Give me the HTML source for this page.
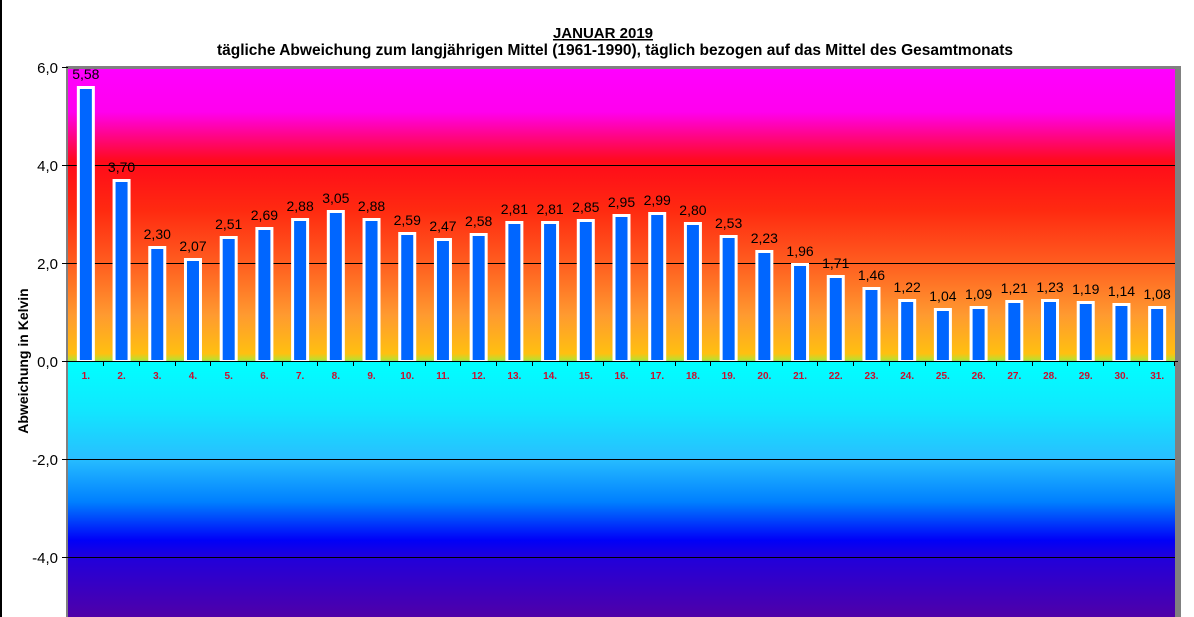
<!DOCTYPE html>
<html><head><meta charset="utf-8"><style>
html,body{margin:0;padding:0;background:#fff;}
svg{display:block;font-family:"Liberation Sans",Arial,sans-serif;}
.v{font-size:14px;text-anchor:middle;fill:#000}
.d{font-size:10px;font-weight:bold;fill:#c8102e;text-anchor:middle}
</style></head><body>
<svg width="1194" height="617" viewBox="0 0 1194 617" xmlns="http://www.w3.org/2000/svg">
<defs>
<linearGradient id="g" x1="0" y1="68" x2="0" y2="617" gradientUnits="userSpaceOnUse">
<stop offset="0" stop-color="#ff00ff"/>
<stop offset="0.08" stop-color="#ff00ee"/>
<stop offset="0.17" stop-color="#ff0a1a"/>
<stop offset="0.26" stop-color="#ff2a10"/>
<stop offset="0.36" stop-color="#ff6020"/>
<stop offset="0.45" stop-color="#ff9a30"/>
<stop offset="0.52" stop-color="#ffc010"/>
<stop offset="0.532" stop-color="#b8e030"/>
<stop offset="0.536" stop-color="#00ffff"/>
<stop offset="0.62" stop-color="#10e8ff"/>
<stop offset="0.71" stop-color="#28bfff"/>
<stop offset="0.79" stop-color="#0080ff"/>
<stop offset="0.86" stop-color="#0000f8"/>
<stop offset="0.89" stop-color="#2000dc"/>
<stop offset="1" stop-color="#5000a8"/>
</linearGradient>
</defs>
<rect x="0" y="0" width="1194" height="617" fill="#fff"/>
<rect x="0" y="0" width="2" height="617" fill="#000"/>
<rect x="66" y="66" width="1115" height="551" fill="#808080"/>
<rect x="68" y="69" width="1107" height="548" fill="url(#g)"/>
<g stroke="#000" stroke-width="1">
<line x1="68" y1="165.5" x2="1175" y2="165.5"/>
<line x1="68" y1="263.5" x2="1175" y2="263.5"/>
<line x1="68" y1="459.5" x2="1175" y2="459.5"/>
<line x1="68" y1="557.5" x2="1175" y2="557.5"/>
<line x1="68" y1="361.5" x2="1178" y2="361.5"/>
<line x1="62" y1="67.5" x2="68" y2="67.5"/>
<line x1="62" y1="165.5" x2="68" y2="165.5"/>
<line x1="62" y1="263.5" x2="68" y2="263.5"/>
<line x1="62" y1="361.5" x2="68" y2="361.5"/>
<line x1="62" y1="459.5" x2="68" y2="459.5"/>
<line x1="62" y1="557.5" x2="68" y2="557.5"/>
</g>
<g font-size="15" text-anchor="end" fill="#000">
<text x="58" y="73">6,0</text><text x="58" y="171">4,0</text><text x="58" y="269">2,0</text>
<text x="58" y="367">0,0</text><text x="58" y="465">-2,0</text><text x="58" y="563">-4,0</text>
</g>
<text transform="translate(28,361) rotate(-90)" font-size="14" font-weight="bold" text-anchor="middle">Abweichung in Kelvin</text>
<text x="603" y="38" font-size="15" font-weight="bold" text-anchor="middle" text-decoration="underline">JANUAR 2019</text>
<text x="615" y="55" font-size="15.5" font-weight="bold" text-anchor="middle">tägliche Abweichung zum langjährigen Mittel (1961-1990), täglich bezogen auf das Mittel des Gesamtmonats</text>

<g transform="translate(85.85,0)"><rect x="-9" y="86" width="18" height="275" fill="#fff"/><rect x="-6" y="89" width="12" height="271" fill="#06f"/><text class="v" y="79">5,58</text><text class="d" y="379">1.</text></g>
<g transform="translate(121.56,0)"><rect x="-9" y="179" width="18" height="182" fill="#fff"/><rect x="-6" y="182" width="12" height="178" fill="#06f"/><text class="v" y="172">3,70</text><text class="d" y="379">2.</text></g>
<g transform="translate(157.27,0)"><rect x="-9" y="246" width="18" height="115" fill="#fff"/><rect x="-6" y="249" width="12" height="111" fill="#06f"/><text class="v" y="239">2,30</text><text class="d" y="379">3.</text></g>
<g transform="translate(192.98,0)"><rect x="-9" y="258" width="18" height="103" fill="#fff"/><rect x="-6" y="261" width="12" height="99" fill="#06f"/><text class="v" y="251">2,07</text><text class="d" y="379">4.</text></g>
<g transform="translate(228.69,0)"><rect x="-9" y="236" width="18" height="125" fill="#fff"/><rect x="-6" y="239" width="12" height="121" fill="#06f"/><text class="v" y="229">2,51</text><text class="d" y="379">5.</text></g>
<g transform="translate(264.40,0)"><rect x="-9" y="227" width="18" height="134" fill="#fff"/><rect x="-6" y="230" width="12" height="130" fill="#06f"/><text class="v" y="220">2,69</text><text class="d" y="379">6.</text></g>
<g transform="translate(300.11,0)"><rect x="-9" y="218" width="18" height="143" fill="#fff"/><rect x="-6" y="221" width="12" height="139" fill="#06f"/><text class="v" y="211">2,88</text><text class="d" y="379">7.</text></g>
<g transform="translate(335.82,0)"><rect x="-9" y="210" width="18" height="151" fill="#fff"/><rect x="-6" y="213" width="12" height="147" fill="#06f"/><text class="v" y="203">3,05</text><text class="d" y="379">8.</text></g>
<g transform="translate(371.53,0)"><rect x="-9" y="218" width="18" height="143" fill="#fff"/><rect x="-6" y="221" width="12" height="139" fill="#06f"/><text class="v" y="211">2,88</text><text class="d" y="379">9.</text></g>
<g transform="translate(407.24,0)"><rect x="-9" y="232" width="18" height="129" fill="#fff"/><rect x="-6" y="235" width="12" height="125" fill="#06f"/><text class="v" y="225">2,59</text><text class="d" y="379">10.</text></g>
<g transform="translate(442.95,0)"><rect x="-9" y="238" width="18" height="123" fill="#fff"/><rect x="-6" y="241" width="12" height="119" fill="#06f"/><text class="v" y="231">2,47</text><text class="d" y="379">11.</text></g>
<g transform="translate(478.66,0)"><rect x="-9" y="233" width="18" height="128" fill="#fff"/><rect x="-6" y="236" width="12" height="124" fill="#06f"/><text class="v" y="226">2,58</text><text class="d" y="379">12.</text></g>
<g transform="translate(514.37,0)"><rect x="-9" y="221" width="18" height="140" fill="#fff"/><rect x="-6" y="224" width="12" height="136" fill="#06f"/><text class="v" y="214">2,81</text><text class="d" y="379">13.</text></g>
<g transform="translate(550.08,0)"><rect x="-9" y="221" width="18" height="140" fill="#fff"/><rect x="-6" y="224" width="12" height="136" fill="#06f"/><text class="v" y="214">2,81</text><text class="d" y="379">14.</text></g>
<g transform="translate(585.79,0)"><rect x="-9" y="219" width="18" height="142" fill="#fff"/><rect x="-6" y="222" width="12" height="138" fill="#06f"/><text class="v" y="212">2,85</text><text class="d" y="379">15.</text></g>
<g transform="translate(621.50,0)"><rect x="-9" y="214" width="18" height="147" fill="#fff"/><rect x="-6" y="217" width="12" height="143" fill="#06f"/><text class="v" y="207">2,95</text><text class="d" y="379">16.</text></g>
<g transform="translate(657.21,0)"><rect x="-9" y="212" width="18" height="149" fill="#fff"/><rect x="-6" y="215" width="12" height="145" fill="#06f"/><text class="v" y="205">2,99</text><text class="d" y="379">17.</text></g>
<g transform="translate(692.92,0)"><rect x="-9" y="222" width="18" height="139" fill="#fff"/><rect x="-6" y="225" width="12" height="135" fill="#06f"/><text class="v" y="215">2,80</text><text class="d" y="379">18.</text></g>
<g transform="translate(728.63,0)"><rect x="-9" y="235" width="18" height="126" fill="#fff"/><rect x="-6" y="238" width="12" height="122" fill="#06f"/><text class="v" y="228">2,53</text><text class="d" y="379">19.</text></g>
<g transform="translate(764.34,0)"><rect x="-9" y="250" width="18" height="111" fill="#fff"/><rect x="-6" y="253" width="12" height="107" fill="#06f"/><text class="v" y="243">2,23</text><text class="d" y="379">20.</text></g>
<g transform="translate(800.05,0)"><rect x="-9" y="263" width="18" height="98" fill="#fff"/><rect x="-6" y="266" width="12" height="94" fill="#06f"/><text class="v" y="256">1,96</text><text class="d" y="379">21.</text></g>
<g transform="translate(835.76,0)"><rect x="-9" y="275" width="18" height="86" fill="#fff"/><rect x="-6" y="278" width="12" height="82" fill="#06f"/><text class="v" y="268">1,71</text><text class="d" y="379">22.</text></g>
<g transform="translate(871.47,0)"><rect x="-9" y="287" width="18" height="74" fill="#fff"/><rect x="-6" y="290" width="12" height="70" fill="#06f"/><text class="v" y="280">1,46</text><text class="d" y="379">23.</text></g>
<g transform="translate(907.18,0)"><rect x="-9" y="299" width="18" height="62" fill="#fff"/><rect x="-6" y="302" width="12" height="58" fill="#06f"/><text class="v" y="292">1,22</text><text class="d" y="379">24.</text></g>
<g transform="translate(942.89,0)"><rect x="-9" y="308" width="18" height="53" fill="#fff"/><rect x="-6" y="311" width="12" height="49" fill="#06f"/><text class="v" y="301">1,04</text><text class="d" y="379">25.</text></g>
<g transform="translate(978.60,0)"><rect x="-9" y="306" width="18" height="55" fill="#fff"/><rect x="-6" y="309" width="12" height="51" fill="#06f"/><text class="v" y="299">1,09</text><text class="d" y="379">26.</text></g>
<g transform="translate(1014.31,0)"><rect x="-9" y="300" width="18" height="61" fill="#fff"/><rect x="-6" y="303" width="12" height="57" fill="#06f"/><text class="v" y="293">1,21</text><text class="d" y="379">27.</text></g>
<g transform="translate(1050.02,0)"><rect x="-9" y="299" width="18" height="62" fill="#fff"/><rect x="-6" y="302" width="12" height="58" fill="#06f"/><text class="v" y="292">1,23</text><text class="d" y="379">28.</text></g>
<g transform="translate(1085.73,0)"><rect x="-9" y="301" width="18" height="60" fill="#fff"/><rect x="-6" y="304" width="12" height="56" fill="#06f"/><text class="v" y="294">1,19</text><text class="d" y="379">29.</text></g>
<g transform="translate(1121.44,0)"><rect x="-9" y="303" width="18" height="58" fill="#fff"/><rect x="-6" y="306" width="12" height="54" fill="#06f"/><text class="v" y="296">1,14</text><text class="d" y="379">30.</text></g>
<g transform="translate(1157.15,0)"><rect x="-9" y="306" width="18" height="55" fill="#fff"/><rect x="-6" y="309" width="12" height="51" fill="#06f"/><text class="v" y="299">1,08</text><text class="d" y="379">31.</text></g>

<path stroke="#000" stroke-width="1" fill="none" d="M103.5 361v5M139.5 361v5M175.5 361v5M210.5 361v5M246.5 361v5M282.5 361v5M317.5 361v5M353.5 361v5M389.5 361v5M425.5 361v5M460.5 361v5M496.5 361v5M532.5 361v5M567.5 361v5M603.5 361v5M639.5 361v5M675.5 361v5M710.5 361v5M746.5 361v5M782.5 361v5M817.5 361v5M853.5 361v5M889.5 361v5M925.5 361v5M960.5 361v5M996.5 361v5M1032.5 361v5M1067.5 361v5M1103.5 361v5M1139.5 361v5M1174.5 361v5"/>
</svg>
</body></html>
